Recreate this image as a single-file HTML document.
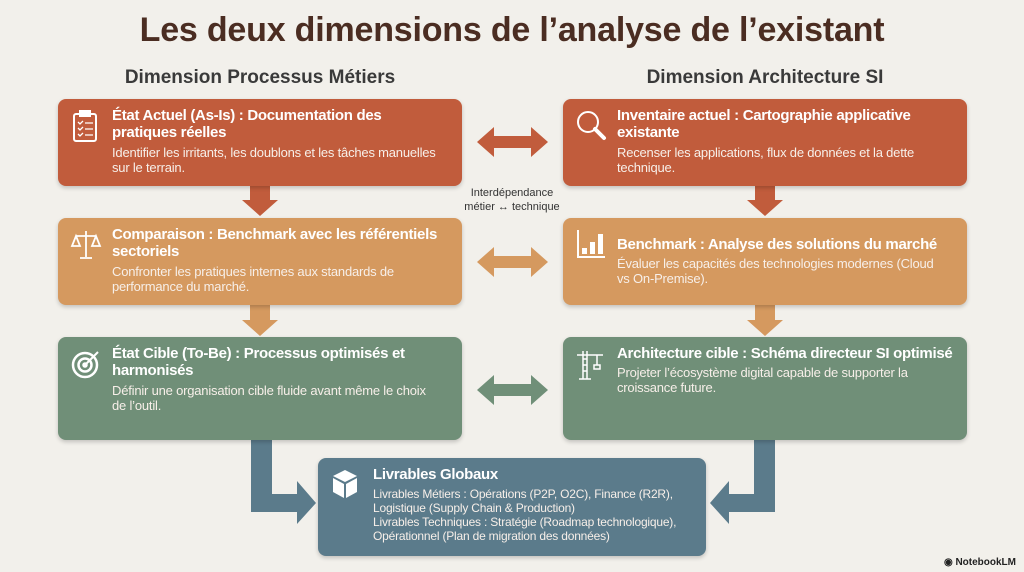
<!DOCTYPE html>
<html><head><meta charset="utf-8"><style>
*{margin:0;padding:0;box-sizing:border-box}
body{width:1024px;height:572px;background:#f2f0eb;font-family:"Liberation Sans",sans-serif;position:relative;overflow:hidden}
.t{position:absolute;left:0;width:1024px;text-align:center;top:11px;font-size:34px;font-weight:bold;color:#4b2d22;letter-spacing:-0.2px}
.h{position:absolute;top:67px;font-size:19px;font-weight:bold;color:#3a3a3a;text-align:center;width:404px}
.b{position:absolute;border-radius:8px;color:#fff;box-shadow:0 2px 4px rgba(0,0,0,.2)}
.b .tt{position:absolute;left:54px;top:8px;font-size:15px;font-weight:bold;line-height:17px;letter-spacing:-0.3px;white-space:nowrap}
.b .ds{font-size:13px;font-weight:normal;line-height:15px;letter-spacing:-0.2px;margin-top:4px;color:#f7efe9}
.o{background:#c15c3c}.l{background:#d5995f}.g{background:#708f78}.bl{background:#5b7b8b}
.ic{position:absolute;left:12px;top:10px}
.lab{position:absolute;left:455px;top:186px;width:114px;text-align:center;font-size:11px;line-height:14px;color:#333}
.nb{position:absolute;right:8px;bottom:4px;font-size:10px;font-weight:bold;color:#222}
</style></head><body>
<div class="t">Les deux dimensions de l’analyse de l’existant</div>
<div class="h" style="left:58px">Dimension Processus Métiers</div>
<div class="h" style="left:563px">Dimension Architecture SI</div>

<svg width="1024" height="572" style="position:absolute;left:0;top:0">
<g fill="#c15c3c"><polygon points="250,186 270,186 270,200 278,200 260,216 242,200 250,200"/><polygon points="755,186 775,186 775,200 783,200 765,216 747,200 755,200"/>
<polygon points="477,142 494,127 494,136 531,136 531,127 548,142 531,157 531,148 494,148 494,157"/></g>
<g fill="#d5995f"><polygon points="250,305 270,305 270,320 278,320 260,336 242,320 250,320"/><polygon points="755,305 775,305 775,320 783,320 765,336 747,320 755,320"/>
<polygon points="477,262 494,247 494,256 531,256 531,247 548,262 531,277 531,268 494,268 494,277"/></g>
<g fill="#708f78"><polygon points="477,390 494,375 494,384 531,384 531,375 548,390 531,405 531,396 494,396 494,405"/></g>
<g fill="#5b7b8b"><polygon points="251,440 272,440 272,494 297,494 297,481 316,503 297,524 297,512 251,512"/>
<polygon points="775,440 754,440 754,494 729,494 729,481 710,503 729,524 729,512 775,512"/></g>
</svg>
<div class="lab">Interdépendance<br>métier ↔ technique</div>

<div class="b o" style="left:58px;top:99px;width:404px;height:87px">
<svg class="ic" width="30" height="34" viewBox="0 0 30 34" fill="none" stroke="#fff" stroke-width="2"><rect x="4" y="5" width="22" height="27" rx="2"/><rect x="10" y="2" width="10" height="5" fill="#fff"/><path d="M8 13l2 2 3-3M8 19l2 2 3-3M8 25l2 2 3-3M15 14h8M15 20h8M15 26h8" stroke-width="1.3"/></svg>
<div class="tt">État Actuel (As-Is) : Documentation des<br>pratiques réelles<div class="ds">Identifier les irritants, les doublons et les tâches manuelles<br>sur le terrain.</div></div></div>

<div class="b l" style="left:58px;top:218px;width:404px;height:87px">
<svg class="ic" width="32" height="34" viewBox="0 0 32 34" fill="none" stroke="#fff" stroke-width="1.8"><path d="M16 3v26M6 8h20M10 30h12M6 8l-4 10h8zM26 8l-4 10h8z"/></svg>
<div class="tt">Comparaison : Benchmark avec les référentiels<br>sectoriels<div class="ds">Confronter les pratiques internes aux standards de<br>performance du marché.</div></div></div>

<div class="b g" style="left:58px;top:337px;width:404px;height:103px">
<svg class="ic" width="32" height="34" viewBox="0 0 32 34" fill="none" stroke="#fff" stroke-width="2.5"><circle cx="15" cy="18" r="12"/><circle cx="15" cy="18" r="6.5"/><circle cx="15" cy="18" r="1.5" fill="#fff"/><path d="M15 18L28 5" stroke-width="2"/></svg>
<div class="tt">État Cible (To-Be) : Processus optimisés et<br>harmonisés<div class="ds">Définir une organisation cible fluide avant même le choix<br>de l’outil.</div></div></div>

<div class="b o" style="left:563px;top:99px;width:404px;height:87px">
<svg class="ic" width="34" height="34" viewBox="0 0 34 34" fill="none" stroke="#fff" stroke-width="2"><circle cx="13" cy="13" r="10"/><path d="M20 20l9 9" stroke-width="4" stroke-linecap="round"/></svg>
<div class="tt">Inventaire actuel : Cartographie applicative<br>existante<div class="ds">Recenser les applications, flux de données et la dette<br>technique.</div></div></div>

<div class="b l" style="left:563px;top:218px;width:404px;height:87px">
<svg class="ic" width="32" height="34" viewBox="0 0 32 34" fill="#fff"><path d="M2 2v28h28v-2H4V2z"/><rect x="7" y="20" width="5" height="6"/><rect x="15" y="14" width="5" height="12"/><rect x="23" y="6" width="5" height="20"/></svg>
<div class="tt" style="top:18px">Benchmark : Analyse des solutions du marché<div class="ds" style="margin-top:3px">Évaluer les capacités des technologies modernes (Cloud<br>vs On-Premise).</div></div></div>

<div class="b g" style="left:563px;top:337px;width:404px;height:103px">
<svg class="ic" width="32" height="34" viewBox="0 0 32 34" fill="none" stroke="#fff" stroke-width="1.5"><path d="M2 8h26M8 4v28M12 4v28M8 12h4M8 18h4M8 24h4M4 32h12M22 8v10M19 18h6v4h-6z"/></svg>
<div class="tt">Architecture cible : Schéma directeur SI optimisé<div class="ds" style="margin-top:3px">Projeter l’écosystème digital capable de supporter la<br>croissance future.</div></div></div>

<div class="b bl" style="left:318px;top:458px;width:388px;height:98px">
<svg class="ic" width="30" height="32" viewBox="0 0 30 32" fill="#fff"><path d="M15 2l12 6-12 6L3 8z"/><path d="M3 10l11 6v14L3 24z"/><path d="M27 10l-11 6v14l11-6z"/></svg>
<div class="tt" style="left:55px">Livrables Globaux<div class="ds" style="font-size:12px;line-height:14px">Livrables Métiers : Opérations (P2P, O2C), Finance (R2R),<br>Logistique (Supply Chain &amp; Production)<br>Livrables Techniques : Stratégie (Roadmap technologique),<br>Opérationnel (Plan de migration des données)</div></div></div>

<div class="nb">◉ NotebookLM</div>
</body></html>
